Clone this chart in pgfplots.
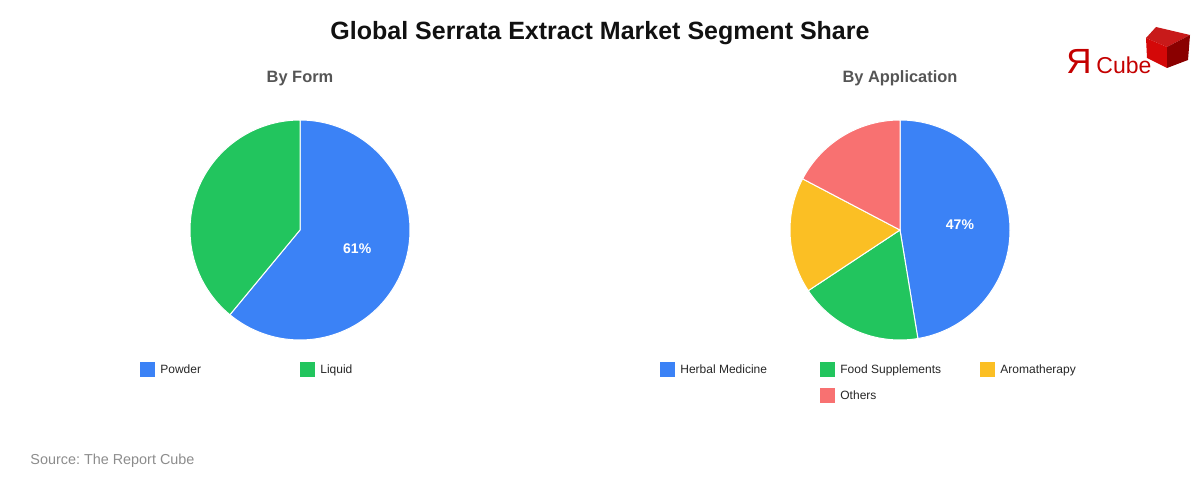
\documentclass[border=0pt]{standalone}
\usepackage{fontspec}
\setmainfont{Liberation Sans}
\usepackage{pgfplots}
\pgfplotsset{compat=1.18}
\frenchspacing

\definecolor{cBlue}{HTML}{3B82F6}
\definecolor{cGreen}{HTML}{22C55E}
\definecolor{cYellow}{HTML}{FBBF24}
\definecolor{cRed}{HTML}{F87171}
\definecolor{titleC}{HTML}{111111}
\definecolor{subC}{HTML}{555555}
\definecolor{srcC}{HTML}{8C8C8C}
\definecolor{logoR}{HTML}{C40000}
\definecolor{logoTop}{HTML}{C81A1A}
\definecolor{logoLeft}{HTML}{D40808}
\definecolor{logoDark}{HTML}{8A0000}

% one pie slice: start share, end share (percent, clockwise from 12 o'clock), colour
\newcommand{\slice}[3]{%
  \addplot[fill=#3, draw=white, line width=0.5pt, domain=90-3.6*#2:90-3.6*#1, samples=90]
    ({cos(x)},{sin(x)}) -- (axis cs:0,0) -- cycle;}

\pgfplotsset{pie/.style={hide axis, scale only axis, width=110pt, height=110pt,
  xmin=-1, xmax=1, ymin=-1, ymax=1, clip=false, anchor=center}}

\begin{document}
\begin{tikzpicture}
\path[use as bounding box] (0pt,0pt) rectangle (600pt,-240pt);

% By Form: Powder 61, Liquid 39
\begin{axis}[pie, at={(150pt,-115pt)}]
\slice{0}{61}{cBlue}
\slice{61}{100}{cGreen}
\node[text=white, font=\bfseries\fontsize{7}{8}\selectfont] at (axis cs:0.52,-0.17) {61\%};
\end{axis}

% By Application: Herbal Medicine, Food Supplements, Aromatherapy, Others
\begin{axis}[pie, at={(450pt,-115pt)}]
\slice{0}{47.4}{cBlue}
\slice{47.4}{65.7}{cGreen}
\slice{65.7}{82.7}{cYellow}
\slice{82.7}{100}{cRed}
\node[text=white, font=\bfseries\fontsize{7}{8}\selectfont] at (axis cs:0.545,0.045) {47\%};
\end{axis}

\begin{scope}[x=0.5pt, y=-0.5pt]
\node[text=titleC, font=\bfseries\fontsize{12.5}{15}\selectfont] at (600,33) {Global Serrata Extract Market Segment Share};
\node[text=subC, anchor=base, font=\bfseries\fontsize{8.2}{10}\selectfont] at (300,83) {By Form};
\node[text=subC, anchor=base, font=\bfseries\fontsize{8.2}{10}\selectfont] at (900,83) {By Application};

% legends
\tikzset{lg/.style={anchor=base west, inner sep=0pt, font=\fontsize{6}{7}\selectfont, text=black!85}}
\fill[cBlue]  (140,362) rectangle (155,377); \node[lg] at (160,374) {Powder};
\fill[cGreen] (300,362) rectangle (315,377); \node[lg] at (320,374) {Liquid};
\fill[cBlue]   (660,362) rectangle (675,377); \node[lg] at (680,374) {Herbal Medicine};
\fill[cGreen]  (820,362) rectangle (835,377); \node[lg] at (840,374) {Food Supplements};
\fill[cYellow] (980,362) rectangle (995,377); \node[lg] at (1000,374) {Aromatherapy};
\fill[cRed]    (820,388) rectangle (835,403); \node[lg] at (840,400) {Others};

\node[anchor=base west, inner sep=0pt, text=srcC, font=\fontsize{7.2}{9}\selectfont] at (30,465) {Source: The Report Cube};

% logo
\node[anchor=base west, inner sep=0pt, text=logoR, font=\fontsize{17.5}{20}\selectfont] at (1066,74) {Я};
\node[anchor=base west, inner sep=0pt, text=logoR, font=\fontsize{11.5}{13}\selectfont] at (1096,74) {Cube};
\fill[logoTop]  (1146,38) -- (1156,27) -- (1190,35) -- (1167,47) -- cycle;
\fill[logoLeft] (1146,38) -- (1167,47) -- (1167,68) -- (1147,58) -- cycle;
\fill[logoDark] (1167,47) -- (1190,35) -- (1188,60) -- (1167,68) -- cycle;
\end{scope}
\end{tikzpicture}
\end{document}
